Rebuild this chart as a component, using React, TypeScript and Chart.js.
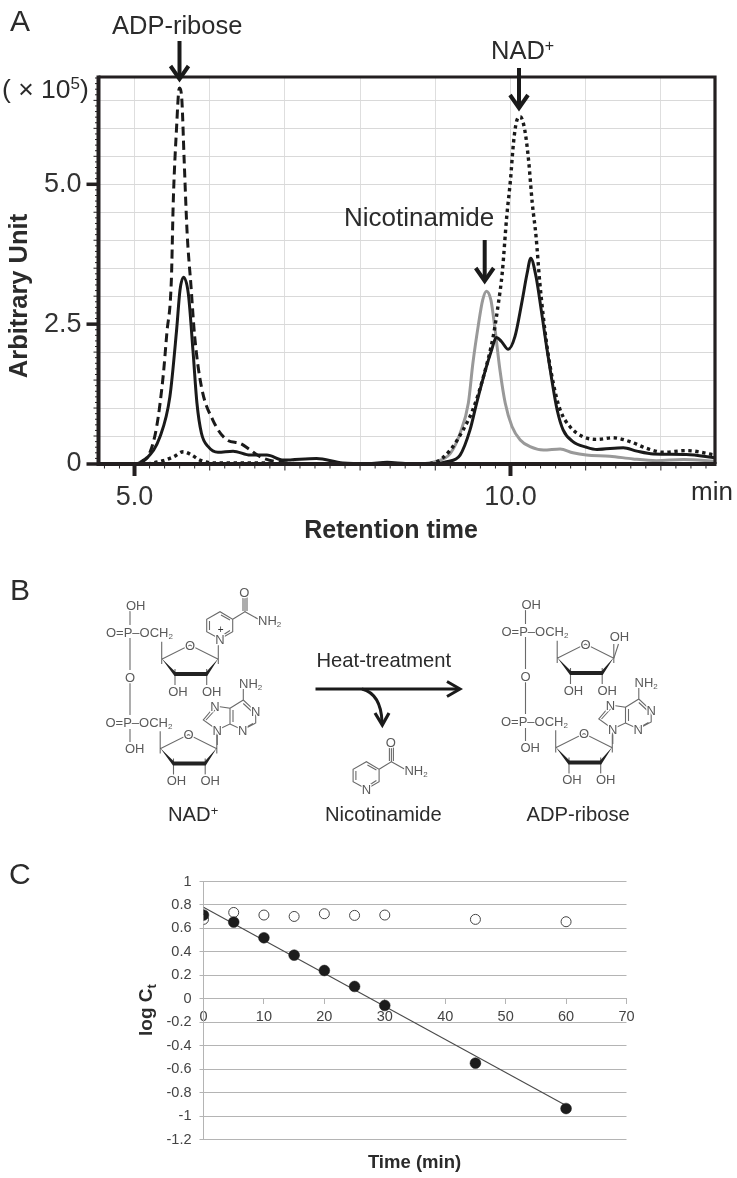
import React, { useEffect, useRef } from "react";
import { Chart, registerables } from "chart.js";

Chart.register(...registerables);

// ---------- Panel A data ----------
const dashedX = [4.52, 5.0, 5.1, 5.2, 5.295, 5.38, 5.43, 5.49, 5.516, 5.56, 5.59, 5.6, 5.63, 5.66, 5.7, 5.75, 5.8, 5.89, 6.04, 6.23, 6.4, 6.54, 6.67, 6.89, 7.3, 12.72];
const dashedY = [0, 0, 0.05, 0.19, 0.67, 1.56, 2.34, 3.29, 4.72, 6.03, 6.69, 6.72, 6.5, 5.44, 4.12, 3.2, 2.28, 1.38, 0.79, 0.43, 0.37, 0.25, 0.13, 0.04, 0.01, 0];

const solidX = [4.52, 5.0, 5.16, 5.34, 5.47, 5.56, 5.605, 5.65, 5.715, 5.78, 5.83, 5.89, 5.98, 6.11, 6.31, 6.54, 6.76, 6.98, 7.42, 7.77, 8.1, 8.36, 8.6, 9.0, 9.15, 9.33, 9.46, 9.55, 9.68, 9.75, 9.81, 9.88, 9.97, 10.06, 10.15, 10.22, 10.27, 10.34, 10.37, 10.48, 10.55, 10.62, 10.7, 10.83, 11.01, 11.15, 11.5, 11.68, 11.9, 12.34, 12.72];
const solidY = [0, 0, 0.1, 0.49, 1.2, 2.4, 3.11, 3.34, 3.05, 1.98, 1.09, 0.55, 0.31, 0.21, 0.23, 0.16, 0.16, 0.07, 0.1, 0.02, 0.01, 0.03, 0.01, 0, 0.04, 0.16, 0.6, 1.09, 1.74, 2.04, 2.26, 2.19, 2.05, 2.28, 2.88, 3.4, 3.68, 3.35, 3.11, 2.1, 1.5, 0.97, 0.61, 0.4, 0.3, 0.26, 0.29, 0.23, 0.18, 0.17, 0.11];

const grayX = [8.8, 9.0, 9.2, 9.33, 9.44, 9.5, 9.57, 9.63, 9.68, 9.74, 9.79, 9.86, 9.93, 10.02, 10.13, 10.26, 10.44, 10.66, 10.83, 11.01, 11.32, 11.63, 11.94, 12.3, 12.72];
const grayY = [0, 0.04, 0.19, 0.55, 1.09, 1.8, 2.46, 2.93, 3.09, 2.93, 2.46, 1.68, 1.09, 0.67, 0.43, 0.31, 0.25, 0.27, 0.2, 0.16, 0.14, 0.09, 0.06, 0.08, 0.05];

const dottedX = [4.52, 5.1, 5.38, 5.52, 5.65, 5.76, 5.87, 6.05, 6.7, 7.0, 8.8, 9.0, 9.2, 9.37, 9.5, 9.64, 9.77, 9.84, 9.89, 9.95, 10.0, 10.04, 10.08, 10.13, 10.19, 10.24, 10.29, 10.34, 10.39, 10.48, 10.57, 10.66, 10.79, 10.96, 11.15, 11.36, 11.59, 11.81, 12.03, 12.34, 12.72];
const dottedY = [0, 0, 0.06, 0.13, 0.22, 0.16, 0.07, 0.02, 0.02, 0, 0, 0.03, 0.25, 0.61, 0.97, 1.56, 2.28, 2.88, 3.41, 4.42, 5.08, 5.74, 6.12, 6.21, 5.97, 5.44, 4.66, 4.07, 3.24, 2.16, 1.44, 0.97, 0.67, 0.49, 0.44, 0.47, 0.4, 0.28, 0.21, 0.24, 0.16];

const aXMin = 4.521;
const aXMax = 12.72;
const aYMax = 6.918;
const aXLabels = [5, 10];
const aYLabels = [0, 2.5, 5];

// ---------- Panel C data ----------
const timeValues = [0, 5, 10, 15, 20, 25, 30, 45, 60];
const openValues = [0.677, 0.736, 0.714, 0.702, 0.725, 0.711, 0.714, 0.677, 0.657];
const filledValues = [0.714, 0.654, 0.52, 0.372, 0.241, 0.105, -0.057, -0.549, -0.936];
const trendTimes = [0, 60];
const trendValues = [0.78, -0.91];

const zip = (xs: number[], ys: number[]) => xs.map((x, i) => ({ x, y: ys[i] }));
const near = (v: number, w: number) => Math.abs(v - w) < 1e-6;
const isMultiple = (v: number, s: number) => near(v / s, Math.round(v / s));

const INK = "#231f20";
const FONT = "'Liberation Sans', Arial, sans-serif";

const frameA = {
  id: "frameA",
  afterDatasetsDraw(chart: any) {
    const { ctx, chartArea: a, scales } = chart;
    ctx.save();
    ctx.strokeStyle = INK;
    ctx.lineCap = "butt";
    // minor and major ticks, from the scales' own ticks
    scales.y.ticks.forEach((t: any) => {
      const p = scales.y.getPixelForValue(t.value);
      const major = aYLabels.some((m) => near(m, t.value));
      const half = isMultiple(t.value, 0.5);
      ctx.lineWidth = major ? 3.5 : 1;
      ctx.beginPath();
      ctx.moveTo(a.left, p);
      ctx.lineTo(a.left - (major ? 12 : half ? 5 : 3.5), p);
      ctx.stroke();
    });
    scales.x.ticks.forEach((t: any) => {
      const p = scales.x.getPixelForValue(t.value);
      const major = aXLabels.some((m) => near(m, t.value));
      const whole = isMultiple(t.value, 1);
      ctx.lineWidth = major ? 4 : 1;
      ctx.beginPath();
      ctx.moveTo(p, a.bottom);
      ctx.lineTo(p, a.bottom + (major ? 12 : whole ? 6.5 : 4.5));
      ctx.stroke();
    });
    ctx.beginPath();
    ctx.lineWidth = 4;
    ctx.moveTo(a.left, a.top - 1.5);
    ctx.lineTo(a.left, a.bottom + 2);
    ctx.moveTo(a.left, a.bottom);
    ctx.lineTo(a.right + 1.5, a.bottom);
    ctx.stroke();
    ctx.beginPath();
    ctx.lineWidth = 3.2;
    ctx.moveTo(a.left, a.top);
    ctx.lineTo(a.right, a.top);
    ctx.lineTo(a.right, a.bottom);
    ctx.stroke();
    ctx.restore();
  },
};

function T(props: any) {
  const { x, y, size = 13, bold, anchor = "start", fill = "#2b2b2b", rotate, halo, children } = props;
  return (
    <text
      x={x}
      y={y}
      fontSize={size}
      fontWeight={bold ? "bold" : "normal"}
      textAnchor={anchor}
      fill={fill}
      fontFamily={FONT}
      transform={rotate ? `rotate(${rotate} ${x} ${y})` : undefined}
      stroke={halo ? "#fff" : undefined}
      strokeWidth={halo ? 2.5 : undefined}
      paintOrder={halo ? "stroke" : undefined}
    >
      {children}
    </text>
  );
}

function Arrow({ x, y1, y2, w = 9 }: { x: number; y1: number; y2: number; w?: number }) {
  return (
    <g stroke="#1a1a1a" fill="none" strokeWidth={4}>
      <line x1={x} x2={x} y1={y1} y2={y2 - 3} />
      <path d={`M${x - w} ${y2 - 15} L${x} ${y2 - 2} L${x + w} ${y2 - 15}`} />
    </g>
  );
}

const CH = "#5a5a5a";
const Sub2 = ({ size = 8 }: { size?: number }) => (
  <tspan fontSize={size} dy={2}>2</tspan>
);
const Atom = ({ x, y, children, anchor = "middle" }: any) => (
  <T x={x} y={y + 4.7} size={13} fill={CH} anchor={anchor} halo>
    {children}
  </T>
);
const Bonds = ({ d, w = 1.1 }: { d: string; w?: number }) => (
  <path d={d} fill="none" stroke="#6a6a6a" strokeWidth={w} />
);

function Ribose() {
  return (
    <g>
      <Bonds d="M161.7 641.7 L161.7 664 M161.7 659.3 L190 645 L218.3 659.3 M218.3 645 L218.3 664 M175 669 L175 685 M206.7 669 L206.7 685" />
      <polygon points="161.7,658.5 175.5,672 206.2,672 218.3,658.5 207.2,676 174.5,676" fill="#222" />
      <Atom x={190} y={645}>O</Atom>
      <Atom x={178} y={691}>OH</Atom>
      <Atom x={211.7} y={691}>OH</Atom>
    </g>
  );
}

function Pyridine({ charged }: { charged?: boolean }) {
  return (
    <g>
      <Bonds d="M220 639 L206.7 631.7 L206.7 619.3 L220 611.7 L232.7 619.3 L232.7 631.7 L220 639 M209.5 630 L209.5 621 M221 615 L230 620 M230 630.5 L223 635 M232.7 619.3 L245 611.7 L245 597 M243 611 L243 597 M247 611 L247 597 M245 611.7 L258 619" />
      <Atom x={220} y={639}>N</Atom>
      {charged ? (
        <T x={220.6} y={633} size={10} fill="#333" anchor="middle">+</T>
      ) : null}
      <Atom x={244.3} y={592.3}>O</Atom>
      <Atom x={258} y={620} anchor="start">
        NH<Sub2 />
      </Atom>
    </g>
  );
}

function AdpCore() {
  return (
    <g>
      <Bonds d="M130 611 L130 625 M130 638 L130 670 M130 683 L130 715 M130 729 L130 742" />
      <Atom x={126} y={605} anchor="start">OH</Atom>
      <Atom x={106} y={632} anchor="start">
        O=P–OCH<Sub2 />
      </Atom>
      <Atom x={130} y={677}>O</Atom>
      <Atom x={105.5} y={722} anchor="start">
        O=P–OCH<Sub2 />
      </Atom>
      <Atom x={125} y={748} anchor="start">OH</Atom>
      <Ribose />
      <g transform="translate(-1.5 89.5)">
        <Ribose />
      </g>
      <Bonds d="M217.3 730 L217.3 745 M217.3 730 L203.3 720 L215 706 L230 708.3 L230 724 L217.3 730 M230 708.3 L243.3 700 L255.7 711.7 L255.7 723 L242.7 730 L230 724 M233 710 L233 722 M206 720 L215.5 709.5 M243.3 703.5 L253 712.5 M253 723.5 L244 728.5 M243.3 700 L243.3 689" />
      <Atom x={217.3} y={730}>N</Atom>
      <Atom x={215} y={706}>N</Atom>
      <Atom x={255.7} y={711.5}>N</Atom>
      <Atom x={242.7} y={730}>N</Atom>
      <Atom x={239} y={683.5} anchor="start">
        NH<Sub2 />
      </Atom>
    </g>
  );
}

function Overlay() {
  return (
    <svg
      width={737}
      height={1178}
      style={{ position: "absolute", left: 0, top: 0, pointerEvents: "none" }}
    >
      {/* Panel letters */}
      <T x={10} y={31} size={30}>A</T>
      <T x={10} y={600} size={30}>B</T>
      <T x={9} y={884} size={30}>C</T>

      {/* Panel A */}
      <T x={112} y={34} size={25.5}>ADP-ribose</T>
      <T x={2} y={98} size={26.5}>
        ( × 10
        <tspan fontSize={17} dy={-9}>5</tspan>
        <tspan dy={9}>)</tspan>
      </T>
      <T x={491} y={59} size={25.5}>
        NAD<tspan fontSize={16} dy={-8}>+</tspan>
      </T>
      <T x={344} y={226} size={26}>Nicotinamide</T>
      <T x={691} y={500} size={26}>min</T>
      <T x={391} y={537.5} size={25} bold anchor="middle">Retention time</T>
      <T x={26.5} y={296} size={25.5} bold anchor="middle" rotate={-90}>Arbitrary Unit</T>
      <Arrow x={179.5} y1={41} y2={81} />
      <Arrow x={519} y1={68} y2={110} />
      <Arrow x={484.7} y1={240} y2={283} />

      {/* Panel B */}
      <AdpCore />
      <g transform="translate(0 0)">
        <Pyridine charged />
      </g>
      <g transform="translate(395.5 -1)">
        <AdpCore />
        <Bonds d="M218.3 659.3 L223 645" />
        <Atom x={224} y={637.5}>OH</Atom>
      </g>
      <g transform="translate(146.4 150)">
        <Pyridine />
      </g>
      <T x={316.5} y={667} size={20.2}>Heat-treatment</T>
      <g stroke="#1a1a1a" fill="none" strokeWidth={3}>
        <path d="M315.5 689 L459 689" />
        <path d="M447 681.5 L460 689 L447 696.5" />
        <path d="M362 689 Q381 694 382 722" />
        <path d="M375 713 L382.3 725 L389 713" strokeWidth={3.2} />
      </g>
      <T x={168} y={821} size={20.2}>
        NAD<tspan fontSize={13} dy={-6}>+</tspan>
      </T>
      <T x={325} y={821} size={20.2}>Nicotinamide</T>
      <T x={526.5} y={821} size={20.2}>ADP-ribose</T>

      {/* Panel C axis titles */}
      <T x={414.5} y={1168} size={18.5} bold anchor="middle">Time (min)</T>
      <T x={152} y={1010} size={19} bold anchor="middle" rotate={-90}>
        log C<tspan fontSize={13} dy={4}>t</tspan>
      </T>
    </svg>
  );
}

export default function App() {
  const refA = useRef<HTMLCanvasElement>(null);
  const refC = useRef<HTMLCanvasElement>(null);

  useEffect(() => {
    const gridFine = "#d9d9d9";
    const chartA = new Chart(refA.current as any, {
      type: "line",
      data: {
        datasets: [
          { label: "ADP-ribose", data: zip(dashedX, dashedY), borderColor: "#1a1a1a", borderWidth: 3, borderDash: [9, 5] },
          { label: "Heat-treated", data: zip(solidX, solidY), borderColor: "#1a1a1a", borderWidth: 3 },
          { label: "NAD+", data: zip(dottedX, dottedY), borderColor: "#1a1a1a", borderWidth: 3.4, borderDash: [3.4, 3.6] },
          { label: "Nicotinamide", data: zip(grayX, grayY), borderColor: "#999999", borderWidth: 3 },
        ].map((d) => ({ ...d, pointRadius: 0, cubicInterpolationMode: "monotone", clip: 6 })) as any,
      },
      plugins: [frameA],
      options: {
        animation: false,
        responsive: false,
        devicePixelRatio: 1,
        parsing: true as any,
        layout: { padding: { top: 77, right: 22, bottom: 0, left: 0 } },
        plugins: { legend: { display: false }, tooltip: { enabled: false }, title: { display: false } },
        scales: {
          x: {
            type: "linear",
            min: aXMin,
            max: aXMax,
            afterFit: (s: any) => { s.height = 96; },
            border: { display: false },
            grid: {
              drawTicks: false,
              lineWidth: 1,
              color: (c: any) => (isMultiple(c.tick.value, 1) ? "#dedede" : "rgba(0,0,0,0)"),
            },
            ticks: {
              stepSize: 0.2,
              autoSkip: false,
              includeBounds: false,
              maxRotation: 0,
              padding: 17,
              color: "#333",
              font: { family: FONT, size: 27 },
              callback: (v: any) => {
                const hit = aXLabels.find((m) => near(m, v));
                return hit !== undefined ? hit.toFixed(1) : "";
              },
            },
          },
          y: {
            type: "linear",
            min: 0,
            max: aYMax,
            afterFit: (s: any) => { s.width = 98.5; },
            border: { display: false },
            grid: {
              drawTicks: false,
              lineWidth: 1,
              color: (c: any) => (isMultiple(c.tick.value, 0.5) ? gridFine : "rgba(0,0,0,0)"),
            },
            ticks: {
              stepSize: 0.1,
              autoSkip: false,
              includeBounds: false,
              padding: 17,
              color: "#333",
              font: { family: FONT, size: 27 },
              callback: (v: any) => {
                const hit = aYLabels.find((m) => near(m, v));
                if (hit === undefined) return "";
                return hit === 0 ? "0" : hit.toFixed(1);
              },
            },
          },
        },
      },
    } as any);

    const gridC = "#b4b4b4";
    const chartC = new Chart(refC.current as any, {
      type: "line",
      data: {
        datasets: [
          {
            label: "Filled",
            data: zip(timeValues, filledValues),
            showLine: false,
            pointRadius: 5.4,
            pointBackgroundColor: "#1c1c1c",
            pointBorderColor: "#1c1c1c",
            pointBorderWidth: 0.5,
          },
          {
            label: "Open",
            data: zip(timeValues, openValues),
            showLine: false,
            pointRadius: 5,
            pointBackgroundColor: "#ffffff",
            pointBorderColor: "#444",
            pointBorderWidth: 1,
          },
          {
            label: "Trend",
            data: zip(trendTimes, trendValues),
            borderColor: "#4a4a4a",
            borderWidth: 1.1,
            pointRadius: 0,
          },
        ] as any,
      },
      options: {
        animation: false,
        responsive: false,
        devicePixelRatio: 1,
        layout: { padding: { top: 21.5, right: 110.5, bottom: 38.5, left: 0 } },
        plugins: { legend: { display: false }, tooltip: { enabled: false }, title: { display: false } },
        scales: {
          x: {
            type: "linear",
            position: { y: 0 } as any,
            min: 0,
            max: 70,
            border: { color: gridC, width: 1 },
            grid: { drawOnChartArea: false, color: gridC, tickLength: 5 },
            ticks: {
              stepSize: 10,
              padding: 5,
              maxRotation: 0,
              color: "#444",
              font: { family: FONT, size: 14.5 },
              callback: (v: any) => String(v),
            },
          },
          y: {
            type: "linear",
            min: -1.2,
            max: 1,
            afterFit: (s: any) => { s.width = 203.5; },
            border: { color: gridC, width: 1 },
            grid: { color: gridC, tickLength: 4, lineWidth: 1 },
            ticks: {
              stepSize: 0.2,
              padding: 8,
              color: "#444",
              font: { family: FONT, size: 14.5 },
              callback: (v: any) => String(Math.round(v * 10) / 10),
            },
          },
        },
      },
    } as any);

    return () => {
      chartA.destroy();
      chartC.destroy();
    };
  }, []);

  return (
    <div style={{ position: "absolute", left: 0, top: 0, width: 737, height: 1178, overflow: "hidden", background: "#fff" }}>
      <canvas ref={refA} width={737} height={560} style={{ position: "absolute", left: 0, top: 0, width: 737, height: 560 }} />
      <canvas ref={refC} width={737} height={318} style={{ position: "absolute", left: 0, top: 860, width: 737, height: 318 }} />
      <Overlay />
    </div>
  );
}
